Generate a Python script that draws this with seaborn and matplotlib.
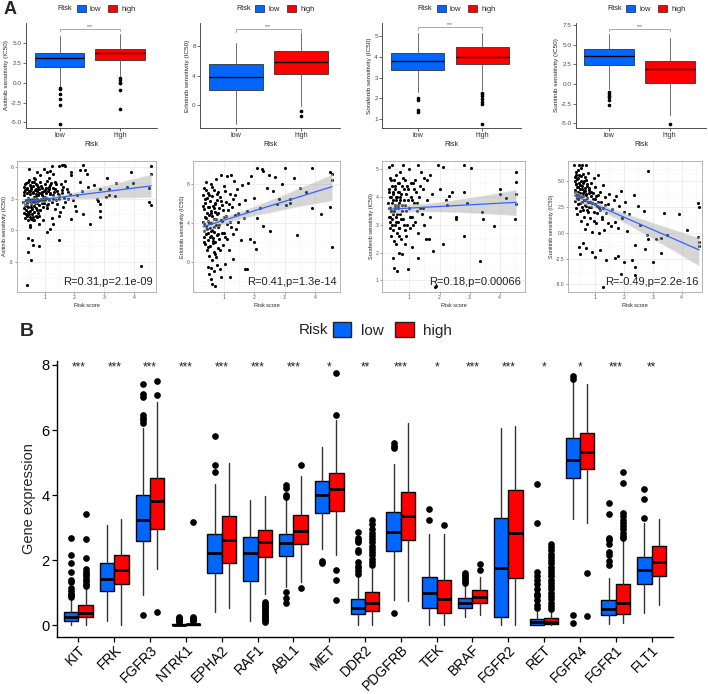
import numpy as np
import matplotlib
matplotlib.use("Agg")
import matplotlib.pyplot as plt
import seaborn as sns
from matplotlib.patches import Patch
from matplotlib.ticker import AutoMinorLocator, FormatStrFormatter

# ---------------- panel A, top row: IC50 boxplots [whisker lo, q1, median, q3, whisker hi]
drugs = ["Axitinib", "Erlotinib", "Sorafenib", "Sunitinib"]
risk_groups = ["low", "high"]

axitinib_low = [-0.42, 2.00, 3.04, 3.79, 5.88]
axitinib_high = [0.83, 2.83, 3.67, 4.29, 6.17]
erlotinib_low = [-2.6, 2.1, 3.8, 5.6, 8.4]
erlotinib_high = [-0.1, 4.2, 5.8, 7.3, 9.7]
sorafenib_low = [2.30, 3.37, 3.81, 4.21, 5.18]
sorafenib_high = [2.40, 3.65, 4.02, 4.46, 5.18]
sunitinib_low = [-0.68, 2.41, 3.56, 4.53, 6.44]
sunitinib_high = [-3.94, 0.17, 1.86, 2.96, 5.89]

axitinib_low_out = [-0.71, -0.80, -1.42, -2.04, -2.83, -5.17]
axitinib_high_out = [0.63, 0.33, 0.0, -0.08, -0.92, -3.33]
erlotinib_low_out = []
erlotinib_high_out = [-0.8, -1.5]
sorafenib_low_out = [2.03, 1.93, 1.46, 1.35]
sorafenib_high_out = [2.28, 2.20, 2.12, 1.95, 1.82, 1.75, 0.78]
sunitinib_low_out = [-1.06, -1.30, -1.50, -1.70, -2.03, -2.71]
sunitinib_high_out = [-5.08]

# ---------------- panel A, second row: risk score vs IC50
axitinib_pts = [
    (0.28, 2.7), (0.30, 4.1), (0.32, 3.3), (0.33, 1.6), (0.34, 2.4), (0.35, 3.8), (0.36, 1.2), (0.37, 2.9),
    (0.38, 4.5), (0.39, 1.9), (0.40, 3.5), (0.41, 1.4), (0.42, 2.6), (0.43, 4.0), (0.44, 3.1), (0.45, 1.0),
    (0.46, 2.2), (0.47, 3.7), (0.48, 4.8), (0.49, 1.5), (0.50, 2.8), (0.51, 3.4), (0.52, 4.3), (0.53, 1.8),
    (0.54, 2.5), (0.55, 3.9), (0.56, 1.1), (0.57, 3.0), (0.58, 4.6), (0.59, 2.0), (0.60, 3.6), (0.61, 1.3),
    (0.62, 2.7), (0.63, 4.2), (0.64, 3.2), (0.65, 1.7), (0.66, 2.3), (0.67, 3.8), (0.68, 4.9), (0.69, 2.9),
    (0.70, 1.4), (0.71, 3.4), (0.72, 2.1), (0.73, 4.4), (0.74, 3.0), (0.75, 2.6), (0.76, 3.7), (0.77, 1.6),
    (0.78, 4.1), (0.79, 3.3), (0.80, 2.4), (0.82, 3.9), (0.84, 2.9), (0.85, 4.6), (0.86, 1.9), (0.88, 3.5),
    (0.90, 2.6), (0.92, 4.0), (0.94, 3.2), (0.96, 2.2), (0.98, 3.7), (1.00, 4.4), (1.02, 2.9), (1.05, 3.5),
    (1.08, 4.7), (1.10, 3.1), (1.12, 2.5), (1.15, 3.9), (1.18, 4.3), (1.20, 3.4), (1.25, 2.7), (1.28, 4.0),
    (1.32, 3.6), (1.35, 4.6), (1.40, 2.9), (1.45, 3.4), (1.55, 4.4), (1.65, 3.1), (1.70, 4.7),
    (0.31, 3.6), (0.33, 2.1), (0.36, 4.4), (0.38, 1.5), (0.40, 2.3), (0.42, 3.9), (0.44, 1.7), (0.46, 4.6),
    (0.48, 3.0), (0.50, 1.3), (0.52, 3.7), (0.54, 2.2), (0.56, 4.1), (0.58, 1.5), (0.60, 2.9), (0.62, 3.5),
    (0.64, 1.0), (0.66, 4.6), (0.68, 2.6), (0.70, 3.2), (0.72, 3.9), (0.74, 1.9), (0.76, 4.3), (0.78, 2.8),
    (0.81, 3.5), (0.83, 1.4), (0.87, 4.2), (0.89, 3.0), (0.93, 3.6), (0.97, 2.6), (1.01, 3.2), (1.04, 4.0),
    (1.07, 2.1), (1.11, 3.7), (1.16, 2.9), (1.22, 4.5), (1.27, 3.3), (1.34, 3.9), (1.38, 4.4), (1.43, 3.7),
    (1.50, 3.0), (1.58, 3.5), (1.62, 4.1), (1.78, 3.6),
    (0.41, -5.2), (0.54, -2.8), (0.46, -2.1), (0.44, -0.7), (0.57, -0.9), (0.60, -1.4), (0.80, -1.5),
    (1.47, -0.95), (4.22, -3.4), (0.52, 0.3), (0.50, 0.5), (0.63, 0.95), (0.74, 1.25), (0.80, 0.6),
    (0.96, 0.95), (1.08, -0.15), (1.19, 0.16), (1.30, 0.6), (1.24, 1.2),
    (0.47, 5.8), (0.98, 5.8), (1.10, 5.5), (1.26, 6.1), (1.20, 5.6), (1.30, 5.3), (1.48, 6.05), (1.60, 6.15),
    (1.65, 6.2), (1.70, 6.1), (1.87, 5.5), (1.90, 5.2), (2.20, 5.7), (2.30, 6.2), (2.36, 5.75), (2.42, 5.3),
    (0.75, 5.5), (0.86, 5.2), (1.14, 5.0), (0.64, 5.0), (3.10, 5.0), (3.90, 5.5), (4.55, 6.05), (4.57, 5.3),
    (3.40, 4.5), (3.17, 3.9), (3.07, 3.15), (3.17, 3.3), (3.35, 3.25), (3.75, 4.1), (3.97, 4.5), (4.50, 4.0),
    (4.50, 2.7), (4.55, 2.4), (2.75, 3.0), (2.80, 2.75), (2.86, 2.5), (2.86, 1.8), (2.86, 1.3), (2.47, 4.1),
    (2.20, 4.55), (2.53, 0.6), (2.30, 1.5), (2.03, 2.3), (2.06, 1.8), (1.90, 1.1), (2.25, 3.7), (2.64, 4.25),
    (2.86, 3.9), (2.08, 3.3), (1.80, 3.0), (1.69, 2.7), (1.63, 2.2), (1.52, 1.7), (1.47, 1.4), (1.35, 2.05),
    (1.41, 2.5), (1.75, 3.95), (1.86, 3.45), (1.97, 2.9), (1.60, 3.8), (1.48, 3.3), (1.30, 3.0), (1.19, 3.5),
    (1.14, 4.1), (1.02, 3.8), (0.91, 3.3), (0.94, 2.85), (1.08, 2.4), (0.85, 1.9),
]
erlotinib_pts = [
    (0.30, 4.1), (0.31, 6.9), (0.32, 3.2), (0.33, 5.4), (0.34, 2.5), (0.35, 7.6), (0.36, 4.6), (0.37, 1.8),
    (0.38, 6.1), (0.39, 3.7), (0.40, 8.2), (0.41, 2.9), (0.42, 5.0), (0.43, 1.2), (0.44, 6.6), (0.45, 4.2),
    (0.46, 3.0), (0.47, 7.1), (0.48, 2.2), (0.49, 5.6), (0.50, 0.6), (0.51, 4.8), (0.52, 3.5), (0.53, 6.3),
    (0.54, 1.6), (0.55, 8.0), (0.56, 2.7), (0.57, 5.2), (0.58, 4.0), (0.59, 0.2), (0.60, 6.8), (0.61, 3.3),
    (0.62, 1.9), (0.63, 5.8), (0.64, 2.4), (0.65, 7.4), (0.66, 4.4), (0.67, 1.0), (0.68, 3.1), (0.69, 6.0),
    (0.70, 5.1), (0.71, 2.0), (0.72, 8.5), (0.73, 3.8), (0.74, 0.5), (0.75, 6.4), (0.76, 2.8), (0.77, 4.9),
    (0.78, 1.4), (0.79, 7.2), (0.80, 3.6), (0.82, 5.5), (0.84, 2.3), (0.86, 6.7), (0.88, 4.3), (0.90, 9.0),
    (0.92, 3.0), (0.94, 5.9), (0.96, 1.7), (0.98, 7.8), (1.00, 4.6), (1.02, 2.6), (1.05, 6.2), (1.08, 8.8),
    (1.10, 3.9), (1.12, 5.3), (1.15, 1.2), (1.18, 7.0), (1.20, 4.1), (1.22, 9.0), (1.25, 5.7), (1.28, 2.9),
    (1.30, 6.5), (1.33, 8.3), (1.36, 4.8), (1.40, 3.4), (1.43, 7.5), (1.46, 5.0), (1.50, 6.0), (1.55, 2.2),
    (1.60, 7.9), (1.65, 4.5), (1.70, 6.4), (1.75, 5.2), (1.80, 8.1),
    (0.31, 5.8), (0.33, 3.9), (0.35, 2.0), (0.37, 6.5), (0.39, 4.5), (0.41, 7.4), (0.43, 3.4), (0.45, 5.7),
    (0.47, 1.5), (0.49, 4.0), (0.51, 6.9), (0.53, 2.6), (0.55, 5.0), (0.57, 3.2), (0.59, 7.7), (0.61, 4.7),
    (0.63, 2.1), (0.65, 5.5), (0.67, 3.6), (0.69, 0.8), (0.71, 6.1), (0.73, 4.4), (0.76, 7.0), (0.78, 2.9),
    (0.81, 5.0), (0.83, 3.8), (0.87, 1.2), (0.89, 6.3), (0.93, 4.2), (0.97, 5.3), (1.01, 3.0), (1.04, 7.3),
    (1.07, 4.7), (1.11, 2.3), (1.16, 6.0), (1.24, 3.6), (1.35, 6.9), (1.45, 4.1),
    (0.50, -1.3), (0.55, -1.8), (0.60, -2.3), (0.70, -2.55), (0.55, -0.6), (0.45, -0.5), (0.90, -1.6),
    (0.65, -1.0), (0.75, -0.3), (0.85, -0.8), (1.02, -0.2), (1.20, -1.6), (1.75, -0.75), (1.70, -0.8),
    (1.30, 0.3),
    (2.10, 9.7), (2.26, 9.6), (2.30, 9.4), (2.47, 9.0), (2.69, 8.7), (3.00, 9.7), (3.90, 9.7), (4.50, 9.3),
    (4.57, 9.1), (4.57, 8.4), (4.50, 5.7), (4.57, 1.55), (4.20, 4.95), (3.92, 5.5), (3.40, 2.8), (3.19, 6.1),
    (3.19, 6.5), (3.03, 5.9), (2.76, 6.0), (2.40, 7.6), (2.63, 7.3), (2.27, 3.7), (2.50, 3.2), (2.05, 1.3),
    (1.98, 2.0), (1.86, 2.3), (3.70, 7.2), (3.50, 7.6), (2.90, 8.0), (2.00, 6.6), (2.20, 5.5), (1.90, 8.8),
    (2.10, 4.5), (2.80, 6.5), (3.30, 8.6),
]
sorafenib_pts = [
    (0.30, 3.8), (0.31, 5.1), (0.32, 3.3), (0.33, 4.2), (0.34, 2.9), (0.35, 3.6), (0.36, 4.7), (0.37, 3.1),
    (0.38, 4.0), (0.39, 2.6), (0.40, 3.5), (0.41, 4.4), (0.42, 5.15), (0.43, 3.2), (0.44, 3.9), (0.45, 1.8),
    (0.46, 4.1), (0.47, 3.4), (0.48, 2.4), (0.49, 4.6), (0.50, 1.45), (0.51, 3.7), (0.52, 3.0), (0.53, 4.3),
    (0.54, 2.3), (0.55, 3.9), (0.56, 4.8), (0.57, 3.3), (0.58, 2.7), (0.59, 4.0), (0.60, 1.35), (0.61, 3.6),
    (0.62, 4.5), (0.63, 3.1), (0.64, 2.6), (0.65, 4.2), (0.66, 3.8), (0.67, 2.9), (0.68, 4.9), (0.69, 3.4),
    (0.70, 4.0), (0.72, 2.5), (0.74, 3.7), (0.75, 1.95), (0.76, 4.4), (0.78, 3.2), (0.80, 5.15), (0.82, 3.9),
    (0.84, 2.8), (0.86, 4.6), (0.88, 3.5), (0.90, 4.1), (0.92, 3.0), (0.95, 1.4), (0.96, 4.3), (0.98, 3.6),
    (1.00, 5.0), (1.02, 2.9), (1.05, 4.0), (1.08, 3.3), (1.10, 2.2), (1.12, 4.5), (1.15, 3.8), (1.18, 3.1),
    (1.20, 4.6), (1.22, 4.2), (1.25, 3.5), (1.28, 2.7), (1.30, 5.15), (1.30, 1.8), (1.33, 4.0), (1.36, 3.6),
    (1.40, 4.9), (1.42, 3.4), (1.45, 4.3), (1.50, 4.7), (1.55, 2.5), (1.58, 3.9), (1.60, 4.6), (1.65, 2.5),
    (0.31, 4.3), (0.33, 3.6), (0.35, 4.0), (0.37, 3.3), (0.39, 4.6), (0.41, 3.0), (0.43, 3.8), (0.45, 4.2),
    (0.47, 2.8), (0.49, 3.5), (0.51, 4.4), (0.53, 3.6), (0.55, 3.1), (0.57, 4.0), (0.59, 3.4), (0.61, 4.2),
    (0.63, 3.7), (0.65, 2.9), (0.67, 4.5), (0.69, 3.9), (0.71, 3.2), (0.73, 4.1), (0.76, 3.5), (0.79, 4.7),
    (0.81, 3.0), (0.83, 4.3), (0.87, 3.7), (0.89, 2.6), (0.93, 4.4), (0.97, 3.9), (1.01, 3.3), (1.04, 4.5),
    (1.07, 3.9), (1.11, 3.0), (1.16, 4.3), (1.24, 3.8), (1.35, 4.4), (1.45, 3.6),
    (1.68, 3.3), (1.70, 4.8), (1.75, 4.1), (1.80, 2.05), (1.85, 0.75), (1.90, 0.8), (1.95, 5.15), (2.00, 4.3),
    (2.10, 5.1), (2.10, 2.3), (2.20, 3.9), (2.25, 3.7), (2.30, 4.05), (2.40, 4.2), (2.55, 3.3), (2.55, 3.2),
    (2.80, 5.15), (2.80, 2.6), (2.80, 4.2), (2.90, 3.8), (3.05, 5.05), (3.35, 1.7), (3.40, 3.45), (3.45, 3.2),
    (3.80, 2.95), (4.00, 4.1), (4.00, 4.3), (4.20, 3.95), (4.50, 3.2), (4.55, 4.9), (4.55, 4.55), (4.55, 4.1),
    (4.55, 3.75), (1.50, 3.0), (0.85, 2.3), (0.65, 2.0),
]
sunitinib_pts = [
    (0.30, 6.6), (0.45, 6.6), (0.55, 6.6), (0.70, 6.6), (0.31, 4.2), (0.32, 5.4), (0.33, 3.1), (0.34, 4.8),
    (0.35, 2.4), (0.36, 5.9), (0.37, 3.7), (0.38, 4.5), (0.39, 1.8), (0.40, 5.2), (0.41, 3.3), (0.42, 6.1),
    (0.43, 2.8), (0.44, 4.0), (0.45, -1.4), (0.46, 5.6), (0.47, 3.5), (0.48, 2.1), (0.49, 4.7), (0.50, -2.0),
    (0.51, 3.9), (0.52, 6.3), (0.53, 1.2), (0.54, 5.0), (0.55, 3.0), (0.56, 4.3), (0.57, 2.5), (0.58, 5.7),
    (0.59, 3.6), (0.60, -1.0), (0.61, 4.9), (0.62, 1.6), (0.63, 4.1), (0.64, 3.2), (0.65, 5.4), (0.66, 2.7),
    (0.67, 0.4), (0.68, 4.4), (0.69, 3.8), (0.70, -1.5), (0.71, 5.1), (0.72, 2.2), (0.73, 3.4), (0.74, 4.6),
    (0.75, 0.9), (0.76, 3.0), (0.78, 5.8), (0.80, 2.5), (0.82, 4.2), (0.84, 1.5), (0.86, 3.6), (0.88, 4.9),
    (0.90, -1.8), (0.90, 2.9), (0.92, 0.1), (0.94, 3.9), (0.96, 5.3), (0.98, 2.0), (1.00, -2.3), (1.00, 3.3),
    (1.02, 4.5), (1.05, 1.0), (1.08, 2.6), (1.10, 5.6), (1.12, 3.7), (1.15, 0.0), (1.18, 2.2), (1.20, -1.7),
    (1.20, 4.0), (1.22, 3.0), (1.25, 1.4), (1.28, 4.7), (1.30, -5.2), (1.30, 2.4), (1.33, 0.3), (1.36, 3.5),
    (0.31, 5.0), (0.33, 4.0), (0.35, 5.6), (0.37, 4.8), (0.39, 3.4), (0.41, 4.5), (0.43, 5.3), (0.45, 3.8),
    (0.47, 4.9), (0.49, 2.9), (0.51, 4.3), (0.53, 5.5), (0.55, 3.6), (0.57, 4.6), (0.59, 2.2), (0.61, 3.9),
    (0.63, 5.0), (0.65, 3.2), (0.67, 4.1), (0.69, 2.6), (0.71, 3.7), (0.73, 4.8), (0.76, 2.0), (0.79, 3.9),
    (0.81, 4.4), (0.83, 3.0), (0.87, 2.5), (0.89, 4.0), (0.93, 3.3), (0.97, 1.2), (1.01, 2.8), (1.04, 3.6),
    (1.07, 1.9), (1.11, 3.0), (1.16, 2.4), (1.24, 1.6), (1.35, 2.7), (1.45, 1.0),
    (1.40, -2.6), (1.40, 1.9), (1.45, 2.8), (1.50, 3.8), (1.55, 0.7), (1.60, 2.3), (1.65, 3.2), (1.70, -2.4),
    (1.70, 1.1), (1.75, 3.6), (1.80, -2.2), (1.80, 0.5), (1.85, 2.6), (1.90, -4.0), (1.90, 4.1), (1.95, 1.5),
    (2.00, -2.8), (2.00, 2.0), (2.05, 3.0), (2.10, 0.2), (2.20, 1.8), (2.30, -2.6), (2.35, 3.7), (2.40, -3.3),
    (2.40, -4.1), (2.40, -1.2), (2.50, 2.6), (2.55, 0.8), (2.70, 2.1), (2.75, -1.6), (2.80, -0.2), (2.85, 6.0),
    (2.85, -0.6), (3.00, -2.8), (3.10, -0.6), (3.30, -1.9), (3.30, -0.5), (3.40, 1.9), (3.50, -0.2), (3.90, 1.8),
    (4.20, 0.3), (4.55, 2.9), (4.60, 2.5), (4.55, -0.4), (4.60, -0.9), (4.60, -1.3),
]
cor_labels = ["R=0.31,p=2.1e-09", "R=0.41,p=1.3e-14", "R=0.18,p=0.00066", "R=-0.49,p=2.2e-16"]

# ---------------- panel B: gene expression boxplots [whisker lo, q1, median, q3, whisker hi]
genes = ["KIT", "FRK", "FGFR3", "NTRK1", "EPHA2", "RAF1", "ABL1", "MET", "DDR2",
         "PDGFRB", "TEK", "BRAF", "FGFR2", "RET", "FGFR4", "FGFR1", "FLT1"]
gene_stars = ["***", "***", "***", "***", "***", "***", "***", "*", "**",
              "***", "*", "***", "***", "*", "*", "***", "**"]
low_box = [
    [0.00, 0.12, 0.26, 0.41, 0.82], [0.12, 1.06, 1.42, 1.90, 3.07], [0.92, 2.59, 3.23, 4.00, 6.05],
    [0.00, 0.00, 0.01, 0.03, 0.07], [0.41, 1.62, 2.22, 2.82, 4.34], [0.12, 1.36, 2.21, 2.70, 3.85],
    [1.18, 2.12, 2.52, 2.82, 3.85], [2.33, 3.46, 4.00, 4.43, 5.49], [0.02, 0.34, 0.54, 0.82, 1.50],
    [0.79, 2.29, 2.86, 3.49, 4.97], [0.02, 0.54, 0.99, 1.49, 2.80], [0.26, 0.54, 0.69, 0.85, 1.23],
    [0.00, 0.24, 1.77, 3.30, 6.05], [0.00, 0.02, 0.09, 0.19, 0.42], [3.28, 4.54, 5.08, 5.74, 7.49],
    [0.05, 0.33, 0.50, 0.79, 1.45], [0.38, 1.28, 1.69, 2.10, 3.15],
]
high_box = [
    [0.00, 0.24, 0.38, 0.62, 1.17], [0.02, 1.26, 1.71, 2.17, 3.28], [1.74, 2.97, 3.83, 4.54, 6.87],
    [0.00, 0.01, 0.03, 0.05, 0.09], [0.53, 1.90, 2.62, 3.35, 5.00], [0.97, 2.10, 2.56, 2.94, 3.97],
    [1.33, 2.49, 2.89, 3.38, 4.60], [2.15, 3.51, 4.18, 4.67, 6.31], [0.02, 0.43, 0.67, 1.02, 1.72],
    [0.75, 2.62, 3.37, 4.08, 6.20], [0.00, 0.39, 0.81, 1.38, 2.80], [0.31, 0.67, 0.87, 1.08, 1.47],
    [0.00, 1.46, 2.85, 4.17, 6.12], [0.00, 0.03, 0.11, 0.22, 0.45], [3.13, 4.79, 5.31, 5.92, 7.40],
    [0.06, 0.36, 0.69, 1.26, 2.62], [0.62, 1.52, 1.93, 2.44, 3.28],
]
low_out = [
    [0.86, 0.92, 0.97, 1.05, 1.15, 1.33, 1.40, 1.64, 1.91, 2.17, 2.69],
    [],
    [0.31, 6.22, 6.30, 6.38, 6.45, 7.00, 7.10, 7.40],
    [0.10, 0.13, 0.16, 0.19, 0.22, 0.25],
    [4.70, 4.91, 5.82],
    [],
    [0.68, 0.85, 1.02, 3.95, 4.00, 4.23, 4.31],
    [1.92, 1.97],
    [1.59, 1.68, 1.75, 1.83, 1.95, 2.25, 2.31, 2.56, 2.62, 2.68, 2.87],
    [0.38, 5.45, 5.52, 5.59],
    [3.23, 3.57],
    [1.30, 1.36, 1.42, 1.48, 1.55, 1.62],
    [],
    [0.52, 0.62, 0.77, 0.89, 0.97, 1.10, 1.28, 1.40, 1.51, 1.64, 3.13, 4.33],
    [0.07, 0.31, 7.56, 7.66],
    [1.85, 1.98, 2.15, 2.26, 2.51, 2.62, 2.69, 3.42, 3.76],
    [3.31, 3.87, 4.18],
]
high_out = [
    [1.22, 1.28, 1.35, 1.42, 1.50, 1.58, 1.64, 1.73, 2.08, 2.66, 3.42],
    [],
    [0.41, 7.09, 7.50],
    [0.12, 0.15, 0.18, 0.21, 0.24, 3.18],
    [],
    [0.10, 0.15, 0.20, 0.25, 0.30, 0.35, 0.40, 0.45, 0.50, 0.55, 0.60, 0.65, 0.72],
    [1.14, 4.91],
    [0.79, 1.38, 1.69, 6.47, 7.75],
    [1.85, 1.95, 2.05, 2.15, 2.25, 2.35, 2.45, 2.55, 2.65, 2.75, 2.85, 2.95, 3.10, 3.25],
    [],
    [3.08],
    [1.71, 1.87],
    [],
    [0.50, 0.60, 0.70, 0.80, 0.90, 1.00, 1.10, 1.20, 1.30, 1.40, 1.50, 1.60, 1.70, 1.80,
     1.90, 2.00, 2.10, 2.20, 2.30, 2.40, 2.51],
    [0.28, 1.61],
    [2.67, 2.75, 2.85, 2.95, 3.05, 3.15, 3.25, 3.35, 3.44, 4.36, 4.70],
    [],
]

LOW_C = "#0066FF"
HIGH_C = "#FF0000"
W, H = 708, 694

sns.set_theme(style="white")
plt.rcParams["font.family"] = ["Liberation Sans", "DejaVu Sans"]


def px_axes(fig, x0, y0, x1, y1):
    return fig.add_axes([x0 / W, 1 - y1 / H, (x1 - x0) / W, (y1 - y0) / H])


def stat_dicts(boxes, outs):
    return [dict(whislo=b[0], q1=b[1], med=b[2], q3=b[3], whishi=b[4], fliers=o)
            for b, o in zip(boxes, outs)]


def draw_boxes(ax, stats, positions, width, colors, lw, med_lw, msize, edge, whisk):
    bp = ax.bxp(stats, positions=positions, widths=width, patch_artist=True,
                showcaps=False, manage_ticks=False,
                boxprops=dict(edgecolor=edge, linewidth=lw),
                whiskerprops=dict(color=whisk, linewidth=lw),
                medianprops=dict(color="black", linewidth=med_lw),
                flierprops=dict(marker="o", markerfacecolor="black",
                                markeredgecolor="black", markersize=msize))
    for patch, c in zip(bp["boxes"], colors):
        patch.set_facecolor(c)
    return bp


def risk_legend(fig, x_text, x_leg, cy, fs, lw, spacing):
    fig.text(x_text / W, 1 - cy / H, "Risk", fontsize=fs, ha="left", va="center",
             color="#222222")
    handles = [Patch(facecolor=LOW_C, edgecolor="#222222", linewidth=lw),
               Patch(facecolor=HIGH_C, edgecolor="#222222", linewidth=lw)]
    fig.legend(handles, risk_groups, loc="center left", ncol=2,
               bbox_to_anchor=(x_leg / W, 1 - cy / H), fontsize=fs,
               frameon=False, handlelength=1.2, handleheight=1.1, handletextpad=0.6,
               columnspacing=spacing, borderpad=0, borderaxespad=0)


fig = plt.figure(figsize=(W / 100, H / 100), dpi=100)

# ---------------- A, top row
box_rects = [(26, 23, 157, 128), (200, 23, 340, 128), (382, 23, 521, 128), (576, 23, 706, 128)]
box_data = [(axitinib_low, axitinib_high, axitinib_low_out, axitinib_high_out),
            (erlotinib_low, erlotinib_high, erlotinib_low_out, erlotinib_high_out),
            (sorafenib_low, sorafenib_high, sorafenib_low_out, sorafenib_high_out),
            (sunitinib_low, sunitinib_high, sunitinib_low_out, sunitinib_high_out)]
box_ylim = [(-5.7, 7.5), (-3.1, 11.1), (0.57, 5.64), (-5.63, 7.8)]
box_ticks = [[-5, -2.5, 0, 2.5, 5], [0, 4, 8], [1, 2, 3, 4, 5], [-5, -2.5, 0, 2.5, 5, 7.5]]
box_fmt = ["%.1f", "%d", "%d", "%.1f"]
bracket_y = [6.8, 10.3, 5.43, 7.07]

for i, rect in enumerate(box_rects):
    ax = px_axes(fig, *rect)
    lo, hi, lo_o, hi_o = box_data[i]
    draw_boxes(ax, stat_dicts([lo, hi], [lo_o, hi_o]), [0, 1], 0.82,
               [LOW_C, HIGH_C], 0.6, 1.0, 1.6, "#333333", "#555555")
    ax.set_xlim(-0.55, 1.6)
    ax.set_ylim(*box_ylim[i])
    ax.set_yticks(box_ticks[i])
    ax.yaxis.set_major_formatter(FormatStrFormatter(box_fmt[i]))
    ax.set_xticks([0, 1])
    ax.set_xticklabels(risk_groups)
    for s in ["top", "right"]:
        ax.spines[s].set_visible(False)
    for s in ["left", "bottom"]:
        ax.spines[s].set_color("#333333")
        ax.spines[s].set_linewidth(0.6)
    ax.tick_params(axis="y", labelsize=4.6, length=2, width=0.5, pad=1, colors="#333333",
                   labelcolor="#4D4D4D", left=True)
    ax.tick_params(axis="x", labelsize=5.2, length=2, width=0.5, pad=1, colors="#333333",
                   labelcolor="#333333", bottom=True)
    ax.set_ylabel(f"{drugs[i]} sensitivity (IC50)", fontsize=4.6, labelpad=1.5)
    ax.set_xlabel("Risk", fontsize=5.2, labelpad=1)
    yb = bracket_y[i]
    d = (box_ylim[i][1] - box_ylim[i][0]) * 0.025
    ax.plot([0, 0, 1, 1], [yb - d, yb, yb, yb - d], color="#888888", lw=0.5)
    ax.text(0.5, yb, "***", ha="center", va="bottom", fontsize=3.6, color="#555555")
    cx = (rect[0] + rect[2]) / 2
    risk_legend(fig, cx - 34, cx - 15, 9, 5.4, 0.5, 0.9)

# ---------------- A, second row
sc_rects = [(17, 161, 156, 292), (193, 161, 340, 292), (382, 161, 525, 292), (568, 161, 702, 292)]
sc_pts = [axitinib_pts, erlotinib_pts, sorafenib_pts, sunitinib_pts]
sc_xlim = [(0.08, 4.73), (-0.03, 4.83), (0.09, 4.84), (0.08, 4.70)]
sc_ylim = [(-5.85, 6.57), (-3.13, 10.4), (0.58, 5.3), (-5.73, 6.99)]
sc_ticks = [[-3, 0, 3, 6], [0, 4, 8], [1, 2, 3, 4, 5], [-5, -2.5, 0, 2.5, 5]]
sc_fmt = ["%d", "%d", "%d", "%.1f"]

for i, rect in enumerate(sc_rects):
    ax = px_axes(fig, *rect)
    pts = np.array(sc_pts[i])
    sns.regplot(x=pts[:, 0], y=pts[:, 1], ax=ax, ci=95, seed=7, truncate=True,
                scatter_kws=dict(s=5, color="black", linewidths=0, alpha=1, zorder=3),
                line_kws=dict(color="#3366FF", lw=0.9, zorder=5))
    for coll in ax.collections:
        if coll.__class__.__name__ in ("PolyCollection", "FillBetweenPolyCollection"):
            coll.set_facecolor("#999999")
            coll.set_alpha(0.4)
            coll.set_zorder(4)
    ax.set_xlim(*sc_xlim[i])
    ax.set_ylim(*sc_ylim[i])
    ax.set_xticks([1, 2, 3, 4])
    ax.set_yticks(sc_ticks[i])
    ax.yaxis.set_major_formatter(FormatStrFormatter(sc_fmt[i]))
    ax.xaxis.set_minor_locator(AutoMinorLocator(2))
    ax.yaxis.set_minor_locator(AutoMinorLocator(2))
    ax.grid(True, which="major", color="#EBEBEB", lw=0.6)
    ax.grid(True, which="minor", color="#F4F4F4", lw=0.4)
    ax.set_axisbelow(True)
    for s in ax.spines.values():
        s.set_color("#AAAAAA")
        s.set_linewidth(0.6)
    ax.tick_params(axis="both", which="major", labelsize=3.6, length=1.5, width=0.4, pad=1,
                   colors="#555555", left=True, bottom=True)
    ax.tick_params(axis="both", which="minor", length=0)
    ax.set_ylabel(f"{drugs[i]} sensitivity (IC50)", fontsize=4.0, labelpad=1.5)
    ax.set_xlabel("Risk score", fontsize=4.0, labelpad=1.5)
    ax.text(0.975, 0.035, cor_labels[i], transform=ax.transAxes, ha="right", va="bottom",
            fontsize=8, color="#222222")

fig.text(4 / W, 1 - 9 / H, "A", fontsize=13, fontweight="bold", va="center", ha="left")

# ---------------- B
axb = px_axes(fig, 57, 361, 673, 637)
pos = np.arange(len(genes))
draw_boxes(axb, stat_dicts(low_box, low_out), pos - 0.2, 0.4, [LOW_C] * len(genes),
           1.0, 2.0, 3.8, "black", "#333333")
draw_boxes(axb, stat_dicts(high_box, high_out), pos + 0.2, 0.4, [HIGH_C] * len(genes),
           1.0, 2.0, 3.8, "black", "#333333")
axb.set_xlim(-0.6, len(genes) - 0.4)
axb.set_ylim(-0.36, 8.12)
axb.set_xticks(pos)
axb.set_xticklabels(genes, rotation=45, ha="right", va="top", rotation_mode="anchor")
axb.set_yticks([0, 2, 4, 6, 8])
for s in ["top", "right"]:
    axb.spines[s].set_visible(False)
for s in ["left", "bottom"]:
    axb.spines[s].set_color("black")
    axb.spines[s].set_linewidth(1.0)
axb.tick_params(axis="y", labelsize=10.5, length=3.5, width=0.9, colors="black",
                left=True, pad=2)
axb.tick_params(axis="x", labelsize=10, length=3.5, width=0.9, colors="black",
                bottom=True, pad=0.5)
axb.set_ylabel("Gene expression", fontsize=10.5, labelpad=4)
for i, st in enumerate(gene_stars):
    axb.text(i, 7.93, st, ha="center", va="center", fontsize=8.5, color="#222222")

fig.text(20 / W, 1 - 332 / H, "B", fontsize=14, fontweight="bold", va="center", ha="left")
risk_legend(fig, 299, 333, 330, 11, 1.0, 0.8)

fig.savefig("out.png", dpi=100)
